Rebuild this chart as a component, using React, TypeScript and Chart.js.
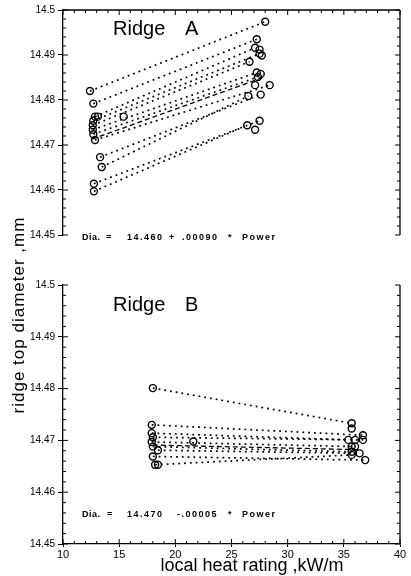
import React, { useEffect, useRef } from 'react';
import { Chart, registerables } from 'chart.js';
Chart.register(...registerables);

const FONT = '"Liberation Sans", Arial, sans-serif';

// ---------- Ridge A (lines: low power point -> high power point) ----------
const ridgeA_powerLow = [12.4, 12.7, 12.85, 12.7, 12.65, 12.65, 12.7, 12.85, 13.3, 13.45, 12.75, 12.75];
const ridgeA_diaLow = [14.482, 14.4792, 14.4763, 14.4754, 14.4744, 14.4734, 14.4724, 14.4711, 14.4673, 14.4651, 14.4614, 14.4597];
const ridgeA_powerHigh = [28.0, 27.25, 27.1, 27.5, 26.6, 27.25, 27.35, 28.4, 27.6, 26.5, 27.5, 26.4];
const ridgeA_diaHigh = [14.4974, 14.4935, 14.4916, 14.4903, 14.4885, 14.4861, 14.4851, 14.4833, 14.4812, 14.4809, 14.4754, 14.4744];
const ridgeA_extraPower = [13.1, 27.7, 27.1, 27.6, 27.1, 27.5];
const ridgeA_extraDia = [14.4763, 14.4899, 14.4833, 14.4858, 14.4734, 14.4912];
const ridgeA_meanPower = [15.4];
const ridgeA_meanDia = [14.4763];
const ridgeA_fitPower = [12.6, 27.8];
const ridgeA_fitDia = [14.4713, 14.485];

// ---------- Ridge B ----------
const ridgeB_powerLow = [18.0, 17.9, 17.9, 18.0, 17.9, 18.0, 18.45, 18.0, 18.2];
const ridgeB_diaLow = [14.4801, 14.473, 14.4714, 14.4706, 14.4697, 14.4688, 14.4681, 14.4669, 14.4653];
const ridgeB_powerHigh = [35.7, 36.7, 35.4, 36.7, 36.0, 35.7, 36.4, 36.9, 35.7];
const ridgeB_diaHigh = [14.4733, 14.471, 14.4701, 14.4701, 14.4688, 14.4678, 14.4675, 14.4662, 14.4672];
const ridgeB_extraPower = [35.7, 36.0, 35.7, 18.45];
const ridgeB_extraDia = [14.4723, 14.4701, 14.4688, 14.4653];
const ridgeB_meanPower = [21.6];
const ridgeB_meanDia = [14.4698];
const ridgeB_fitPower = [18.0, 36.5];
const ridgeB_fitDia = [14.4691, 14.4682];

const xTickValues = [10, 15, 20, 25, 30, 35, 40];

const pointStyle = {
  pointRadius: 3.5,
  pointBorderWidth: 1.4,
  pointBorderColor: '#000',
  pointBackgroundColor: 'rgba(0,0,0,0)',
  pointStyle: 'circle',
};

function buildDatasets(pL: number[], dL: number[], pH: number[], dH: number[], eP: number[], eD: number[], mP: number[], mD: number[], fP: number[], fD: number[]) {
  const sets: any[] = pL.map((p, i) => ({
    data: [{ x: p, y: dL[i] }, { x: pH[i], y: dH[i] }],
    showLine: true,
    borderColor: '#000',
    borderWidth: 1.7,
    borderDash: [1.8, 4],
    ...pointStyle,
  }));
  sets.push({ data: eP.map((p, i) => ({ x: p, y: eD[i] })), showLine: false, ...pointStyle });
  sets.push({ data: mP.map((p, i) => ({ x: p, y: mD[i] })), showLine: false, ...pointStyle });
  sets.push({
    data: fP.map((p, i) => ({ x: p, y: fD[i] })),
    showLine: true,
    borderColor: '#000',
    borderWidth: 1.3,
    borderDash: [5, 3],
    pointRadius: 0,
  });
  return sets;
}

const decorPlugin = {
  id: 'decor',
  afterDatasetsDraw(chart: any, _args: any, opts: any) {
    const { ctx, chartArea } = chart;
    const { left, right, top, bottom } = chartArea;
    const xs = chart.scales.x;
    const ys = chart.scales.y;
    ctx.save();
    ctx.strokeStyle = '#000';
    ctx.lineWidth = 1.3;
    ctx.beginPath();
    ctx.moveTo(right, top);
    ctx.lineTo(right, bottom);
    if (opts.frameTop) {
      ctx.moveTo(left, top);
      ctx.lineTo(right, top);
    }
    ctx.stroke();
    ctx.lineWidth = 1;
    ctx.beginPath();
    for (let k = 0; k <= 25; k++) {
      const py = ys.getPixelForValue(14.45 + k * 0.002);
      const len = k % 5 === 0 ? 5 : 3;
      ctx.moveTo(left, py);
      ctx.lineTo(left + len, py);
      ctx.moveTo(right, py);
      ctx.lineTo(right - len, py);
    }
    for (let k = 10; k <= 40; k++) {
      const px = xs.getPixelForValue(k);
      const len = k % 5 === 0 ? 5 : 3;
      if (opts.frameTop) {
        ctx.moveTo(px, top);
        ctx.lineTo(px, top + len);
      }
      if (opts.ticksBottom) {
        ctx.moveTo(px, bottom);
        ctx.lineTo(px, bottom - len);
      }
    }
    ctx.stroke();
    ctx.fillStyle = '#000';
    ctx.textBaseline = 'middle';
    ctx.textAlign = 'left';
    for (const t of opts.texts || []) {
      ctx.font = t.font;
      (ctx as any).letterSpacing = t.spacing || '0px';
      ctx.fillText(t.text, t.x, t.y);
    }
    ctx.restore();
  },
};

function eqTexts(tokens: [string, number, string][], y: number) {
  return tokens.map(([text, x, spacing]) => ({ text, x, y, font: `bold 9px ${FONT}`, spacing }));
}

function makeConfig(datasets: any[], bottomPanel: boolean, texts: any[]) {
  return {
    type: 'scatter' as const,
    data: { datasets },
    plugins: [decorPlugin],
    options: {
      responsive: false,
      animation: false as const,
      devicePixelRatio: 1,
      layout: { padding: { left: 0, right: 11, top: bottomPanel ? 9 : 10, bottom: bottomPanel ? 0 : 9 } },
      plugins: {
        legend: { display: false },
        tooltip: { enabled: false },
        decor: { frameTop: !bottomPanel, ticksBottom: bottomPanel, texts },
      },
      scales: {
        x: {
          type: 'linear',
          display: bottomPanel,
          min: 10,
          max: 40,
          afterBuildTicks: (scale: any) => {
            scale.ticks = xTickValues.map((v) => ({ value: v }));
          },
          afterFit: (scale: any) => {
            scale.height = 32;
          },
          grid: { drawOnChartArea: false, drawTicks: true, tickLength: 3, color: '#000', lineWidth: 1 },
          border: { display: true, color: '#000', width: 1.3 },
          ticks: {
            color: '#000',
            padding: 1,
            font: { family: FONT, size: 11 },
            maxRotation: 0,
            autoSkip: false,
            callback: (v: any) => String(v),
          },
        },
        y: {
          type: 'linear',
          min: 14.45,
          max: 14.5,
          ticks: {
            stepSize: 0.01,
            color: '#000',
            padding: 3,
            font: { family: FONT, size: 10 },
            callback: (v: any) => {
              const s = Number(v).toFixed(2);
              return s.endsWith('0') ? s.slice(0, -1) : s;
            },
          },
          afterFit: (scale: any) => {
            scale.width = 63;
          },
          grid: { drawOnChartArea: false, drawTicks: true, tickLength: 5, color: '#000', lineWidth: 1 },
          border: { display: true, color: '#000', width: 1.3 },
        },
      },
    },
  };
}

export default function App() {
  const topRef = useRef<HTMLCanvasElement>(null);
  const botRef = useRef<HTMLCanvasElement>(null);

  useEffect(() => {
    const topTexts = [
      { text: 'Ridge', x: 113, y: 29, font: `20px ${FONT}` },
      { text: 'A', x: 185, y: 29, font: `20px ${FONT}` },
      ...eqTexts(
        [
          ['Dia.', 82, '0.5px'],
          ['=', 106, '0px'],
          ['14.460', 127, '1.5px'],
          ['+', 169, '0px'],
          ['.00090', 182, '1.5px'],
          ['*', 228, '0px'],
          ['Power', 242, '1.5px'],
        ],
        238
      ),
    ];
    const botTexts = [
      { text: 'Ridge', x: 113, y: 29, font: `20px ${FONT}` },
      { text: 'B', x: 185, y: 29, font: `20px ${FONT}` },
      ...eqTexts(
        [
          ['Dia.', 82, '0.5px'],
          ['=', 107, '0px'],
          ['14.470', 127, '1.5px'],
          ['-.00005', 177, '1.5px'],
          ['*', 228, '0px'],
          ['Power', 242, '1.5px'],
        ],
        239
      ),
    ];
    const c1 = new Chart(
      topRef.current!,
      makeConfig(
        buildDatasets(ridgeA_powerLow, ridgeA_diaLow, ridgeA_powerHigh, ridgeA_diaHigh, ridgeA_extraPower, ridgeA_extraDia, ridgeA_meanPower, ridgeA_meanDia, ridgeA_fitPower, ridgeA_fitDia),
        false,
        topTexts
      ) as any
    );
    const c2 = new Chart(
      botRef.current!,
      makeConfig(
        buildDatasets(ridgeB_powerLow, ridgeB_diaLow, ridgeB_powerHigh, ridgeB_diaHigh, ridgeB_extraPower, ridgeB_extraDia, ridgeB_meanPower, ridgeB_meanDia, ridgeB_fitPower, ridgeB_fitDia),
        true,
        botTexts
      ) as any
    );
    return () => {
      c1.destroy();
      c2.destroy();
    };
  }, []);

  return (
    <div style={{ position: 'absolute', left: 0, top: 0, width: 411, height: 576, background: '#fff', overflow: 'hidden' }}>
      <canvas ref={topRef} width={411} height={276} style={{ position: 'absolute', left: 0, top: 0, width: 411, height: 276 }} />
      <canvas ref={botRef} width={411} height={300} style={{ position: 'absolute', left: 0, top: 276, width: 411, height: 300 }} />
      <div
        style={{
          position: 'absolute',
          left: 142,
          top: 554,
          width: 220,
          height: 22,
          lineHeight: '22px',
          textAlign: 'center',
          fontFamily: FONT,
          fontSize: 18,
          color: '#000',
          whiteSpace: 'nowrap',
        }}
      >
        local heat rating ,kW/m
      </div>
      <div
        style={{
          position: 'absolute',
          left: 19 - 130,
          top: 315 - 10,
          width: 260,
          height: 20,
          lineHeight: '20px',
          textAlign: 'center',
          fontFamily: FONT,
          fontSize: 17,
          letterSpacing: 1,
          color: '#000',
          whiteSpace: 'nowrap',
          transform: 'rotate(-90deg)',
          transformOrigin: '50% 50%',
        }}
      >
        ridge top diameter ,mm
      </div>
    </div>
  );
}
